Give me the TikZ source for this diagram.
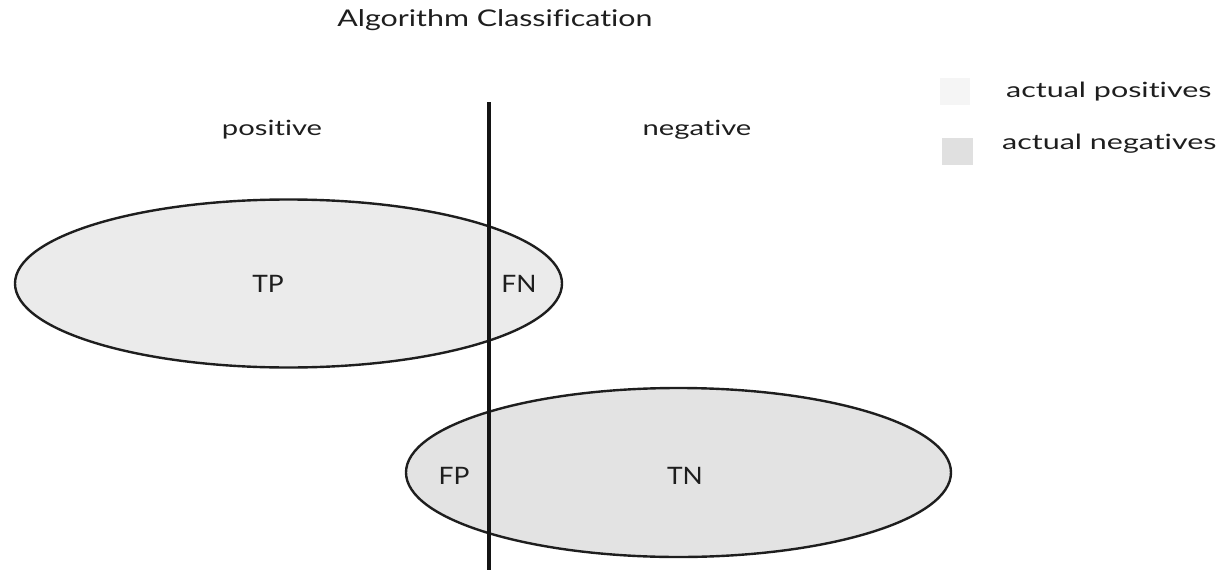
\documentclass[tikz,border=0pt]{standalone}
\usepackage{fontspec}
\setmainfont{Lato}[Ligatures=NoCommon]
\usetikzlibrary{shapes.geometric}
\newcommand{\stretchtxt}[2]{\scalebox{#1}[1]{#2}}
\definecolor{inkc}{HTML}{1E1E1E}
\begin{document}
\begin{tikzpicture}[x=1pt,y=-1pt,
  lbl/.style={font=\fontsize{21}{24}\selectfont, text=inkc, inner sep=0pt, anchor=base},
  big/.style={lbl, font=\fontsize{24}{28}\selectfont},
  set/.style={draw=inkc, line width=2.4pt, ellipse, inner sep=0pt},
  key/.style={inner sep=0pt}]
\useasboundingbox (0,0) rectangle (1227,570);
% ellipses
\node[set, fill=black!8, minimum width=547pt, minimum height=168pt] (pos) at (288.5,283.5) {};
\node[set, fill=black!11, minimum width=545pt, minimum height=169pt] (neg) at (678.5,472.5) {};
% divider
\coordinate (top) at (489,102);
\coordinate (bot) at (489,570);
\draw[line width=4.5pt, black!92] (top) -- (bot);
% labels
\node[lbl, font=\fontsize{23}{27}\selectfont] (title) at (495,27) {\stretchtxt{1.32}{Algorithm Classification}};
\node[lbl] (ptxt) at (272,135) {\stretchtxt{1.39}{positive}};
\node[lbl] (ntxt) at (697,135) {\stretchtxt{1.39}{negative}};
\node[big] (tp) at (268,292) {\stretchtxt{1.1}{TP}};
\node[big] (fn) at (519,292) {\stretchtxt{1.1}{FN}};
\node[big] (fp) at (454,484) {\stretchtxt{1.1}{FP}};
\node[big] (tn) at (685,484) {\stretchtxt{1.1}{TN}};
% legend
\node[key, fill=black!4, minimum width=30pt, minimum height=27pt] (k1) at (955,91.5) {};
\node[key, fill=black!12, minimum width=31pt, minimum height=27pt] (k2) at (957.5,151.5) {};
\node[lbl, anchor=base west] (l1) at (1006,97) {\stretchtxt{1.45}{actual positives}};
\node[lbl, anchor=base west] (l2) at (1002,149) {\stretchtxt{1.45}{actual negatives}};
\end{tikzpicture}
\end{document}
